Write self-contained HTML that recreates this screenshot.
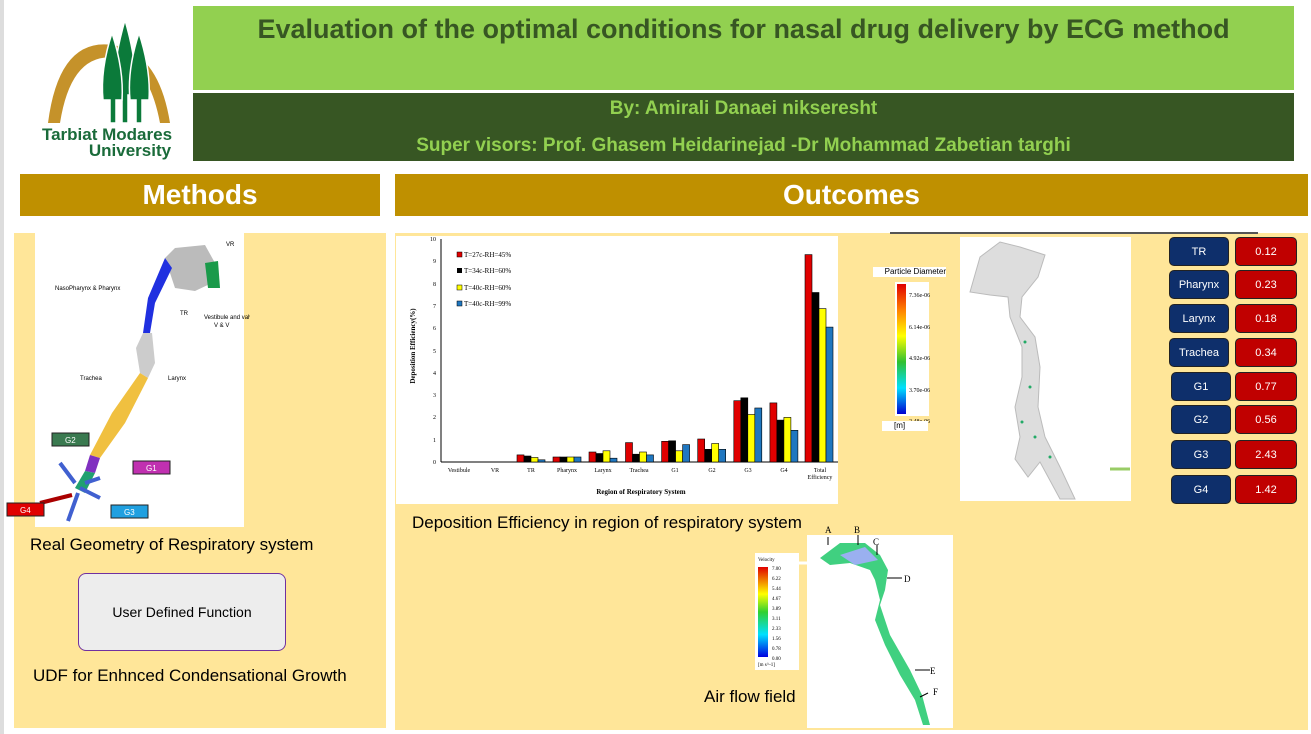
<!DOCTYPE html>
<html><head><meta charset="utf-8"><style>
*{margin:0;padding:0;box-sizing:border-box}
body{width:1311px;height:734px;background:#fff;position:relative;overflow:hidden;font-family:"Liberation Sans","DejaVu Sans",sans-serif}
.a{position:absolute}
.bar{background:#bf9000;color:#fff;font-weight:bold;font-size:28px;text-align:center;line-height:42px}
.cell{position:absolute;width:60px;height:29px;border-radius:5px;color:#fff;font-size:11px;text-align:center;line-height:29px;border:1px solid #222}
.l{left:1169px;background:#0e2f6b}
.r{left:1235px;background:#c00000;width:62px}
</style></head><body>
<div class="a" style="left:0;top:0;width:4px;height:734px;background:#ddd"></div>
<!-- logo -->
<svg class="a" style="left:30px;top:15px" width="160" height="145" viewBox="0 0 160 145">
<path d="M18 108 Q30 15 92 32 Q130 45 140 108 L130 108 Q120 55 92 44 Q42 32 30 108Z" fill="#c5922a"/>
<g fill="#0b7a3a" stroke="#fff" stroke-width="1.5">
<path d="M95 5 Q82 50 85 80 L92 80 L92 108 L98 108 L98 80 L105 80 Q108 50 95 5Z"/>
<path d="M82 18 Q70 55 73 85 L80 85 L80 108 L86 108 L86 85 L92 85 Q94 55 82 18Z"/>
<path d="M109 18 Q97 55 100 85 L106 85 L106 108 L112 108 L112 85 L119 85 Q121 55 109 18Z"/>
</g>
<text x="77" y="125" text-anchor="middle" font-size="17" font-weight="bold" fill="#1a6b3a">Tarbiat Modares</text>
<text x="100" y="141" text-anchor="middle" font-size="17" font-weight="bold" fill="#1a6b3a">University</text>
</svg>
<!-- header -->
<div class="a" style="left:193px;top:6px;width:1101px;height:84px;background:#92d050;color:#375623;font-weight:bold;font-size:27px;text-align:center;padding-top:8px">Evaluation of the optimal conditions for nasal drug delivery by ECG method</div>
<div class="a" style="left:193px;top:93px;width:1101px;height:68px;background:#375623;color:#92d050;font-weight:bold;font-size:19px;text-align:center">
<div style="position:absolute;top:5px;width:100%">By: Amirali Danaei nikseresht</div>
<div style="position:absolute;top:42px;width:100%">Super visors: Prof. Ghasem Heidarinejad -Dr Mohammad Zabetian targhi</div></div>
<div class="a bar" style="left:20px;top:174px;width:360px;height:42px">Methods</div>
<div class="a bar" style="left:395px;top:174px;width:913px;height:42px">Outcomes</div>
<!-- panels -->
<div class="a" style="left:14px;top:233px;width:372px;height:495px;background:#ffe699"></div>
<div class="a" style="left:395px;top:233px;width:913px;height:497px;background:#ffe699"></div>
<!-- left geometry -->
<svg class="a" style="left:0;top:233px" width="250" height="295">
<rect x="35" y="0" width="209" height="294" fill="#fff"/>
<path d="M165 25 L175 15 L205 12 L215 30 L212 50 L195 58 L175 55 L170 40Z" fill="#bbb"/>
<path d="M205 30 L218 28 L220 55 L208 55Z" fill="#1a9a4a"/>
<path d="M165 25 L172 35 L155 70 L150 100 L143 100 L148 65Z" fill="#2030e0"/>
<path d="M143 100 L152 100 L155 130 L148 145 L140 140 L136 115Z" fill="#ccc"/>
<path d="M140 140 L148 145 L125 190 L100 225 L90 222 L112 180Z" fill="#f0c040"/>
<path d="M90 222 L100 225 L95 240 L85 238Z" fill="#8030c0"/>
<path d="M85 238 L95 240 L85 260 L75 255Z" fill="#20a070"/>
<path d="M75 250 L60 230 M80 255 L100 265 M78 260 L68 288 M85 250 L100 245" stroke="#4060d0" stroke-width="4"/>
<path d="M72 262 L40 270" stroke="#a00" stroke-width="4"/>
<g font-size="6" fill="#000"><text x="55" y="57">NasoPharynx &amp; Pharynx</text><text x="180" y="82">TR</text><text x="204" y="86">Vestibule and valve</text><text x="214" y="94">V &amp; V</text><text x="226" y="13">VR</text><text x="80" y="147">Trachea</text><text x="168" y="147">Larynx</text></g>
<rect x="52" y="200" width="37" height="13" fill="#3a7a50" stroke="#222"/><text x="65" y="210" font-size="8" fill="#fff">G2</text>
<rect x="133" y="228" width="37" height="13" fill="#c030b0" stroke="#222"/><text x="146" y="238" font-size="8" fill="#fff">G1</text>
<rect x="111" y="272" width="37" height="13" fill="#20a0e0" stroke="#222"/><text x="124" y="282" font-size="8" fill="#fff">G3</text>
<rect x="7" y="270" width="37" height="13" fill="#e00000" stroke="#222"/><text x="20" y="280" font-size="8" fill="#fff">G4</text>
</svg>
<div class="a" style="left:30px;top:535px;font-size:17px;color:#000">Real Geometry of Respiratory system</div>
<div class="a" style="left:78px;top:573px;width:208px;height:78px;background:#ededed;border:1px solid #7030a0;border-radius:8px;font-size:14px;text-align:center;line-height:76px">User Defined Function</div>
<div class="a" style="left:33px;top:666px;font-size:17px;color:#000">UDF for Enhnced Condensational Growth</div>
<!-- chart -->
<svg class="a" style="left:396px;top:236px" width="442" height="268" font-family="Liberation Serif,serif">
<rect width="442" height="268" fill="#fff"/>
<line x1="45" y1="3" x2="45" y2="226" stroke="#000"/><line x1="45" y1="226" x2="442" y2="226" stroke="#000"/>
<g font-size="6" text-anchor="end">
<text x="40" y="228">0</text><text x="40" y="206">1</text><text x="40" y="183">2</text><text x="40" y="161">3</text><text x="40" y="139">4</text><text x="40" y="117">5</text><text x="40" y="94">6</text><text x="40" y="72">7</text><text x="40" y="50">8</text><text x="40" y="27">9</text><text x="40" y="5">10</text></g>
<g stroke="#000" stroke-width="0.6">
<rect x="121" y="218.9" width="7" height="7.1" fill="#e00000"/><rect x="128" y="220" width="7" height="6" fill="#000"/><rect x="135" y="221.5" width="7" height="4.5" fill="#ff0"/><rect x="142" y="223.8" width="7" height="2.2" fill="#1f77c0"/>
<rect x="157" y="221" width="7" height="5" fill="#e00000"/><rect x="164" y="221" width="7" height="5" fill="#000"/><rect x="171" y="221" width="7" height="5" fill="#ff0"/><rect x="178" y="221" width="7" height="5" fill="#1f77c0"/>
<rect x="193" y="216" width="7" height="10" fill="#e00000"/><rect x="200" y="217.5" width="7" height="8.5" fill="#000"/><rect x="207" y="214.8" width="7" height="11.2" fill="#ff0"/><rect x="214" y="222.2" width="7" height="3.8" fill="#1f77c0"/>
<rect x="229.5" y="206.6" width="7" height="19.4" fill="#e00000"/><rect x="236.5" y="218.2" width="7" height="7.8" fill="#000"/><rect x="243.5" y="216" width="7" height="10" fill="#ff0"/><rect x="250.5" y="218.9" width="7" height="7.1" fill="#1f77c0"/>
<rect x="265.6" y="205.3" width="7" height="20.7" fill="#e00000"/><rect x="272.6" y="204.8" width="7" height="21.2" fill="#000"/><rect x="279.6" y="214.8" width="7" height="11.2" fill="#ff0"/><rect x="286.6" y="208.6" width="7" height="17.4" fill="#1f77c0"/>
<rect x="301.7" y="203" width="7" height="23" fill="#e00000"/><rect x="308.7" y="213.3" width="7" height="12.7" fill="#000"/><rect x="315.7" y="207.5" width="7" height="18.5" fill="#ff0"/><rect x="322.7" y="213.3" width="7" height="12.7" fill="#1f77c0"/>
<rect x="337.8" y="164.7" width="7" height="61.3" fill="#e00000"/><rect x="344.8" y="161.8" width="7" height="64.2" fill="#000"/><rect x="351.8" y="178.5" width="7" height="47.5" fill="#ff0"/><rect x="358.8" y="172" width="7" height="54" fill="#1f77c0"/>
<rect x="373.9" y="166.9" width="7" height="59.1" fill="#e00000"/><rect x="380.9" y="184.1" width="7" height="41.9" fill="#000"/><rect x="387.9" y="181.4" width="7" height="44.6" fill="#ff0"/><rect x="394.9" y="194.3" width="7" height="31.7" fill="#1f77c0"/>
<rect x="409" y="18.6" width="7" height="207.4" fill="#e00000"/><rect x="416" y="56.5" width="7" height="169.5" fill="#000"/><rect x="423" y="72.6" width="7" height="153.4" fill="#ff0"/><rect x="430" y="91.1" width="7" height="134.9" fill="#1f77c0"/>
</g>
<g font-size="7"><rect x="61" y="16" width="5" height="5" fill="#e00000" stroke="#000" stroke-width=".5"/><text x="68" y="21">T=27c-RH=45%</text>
<rect x="61" y="32" width="5" height="5" fill="#000"/><text x="68" y="37">T=34c-RH=60%</text>
<rect x="61" y="49" width="5" height="5" fill="#ff0" stroke="#000" stroke-width=".5"/><text x="68" y="54">T=40c-RH=60%</text>
<rect x="61" y="65" width="5" height="5" fill="#1f77c0" stroke="#000" stroke-width=".5"/><text x="68" y="70">T=40c-RH=99%</text></g>
<g font-size="6" text-anchor="middle"><text x="63" y="236">Vestibule</text><text x="99" y="236">VR</text><text x="135" y="236">TR</text><text x="171" y="236">Pharynx</text><text x="207" y="236">Larynx</text><text x="243" y="236">Trachea</text><text x="279" y="236">G1</text><text x="316" y="236">G2</text><text x="352" y="236">G3</text><text x="388" y="236">G4</text><text x="424" y="236">Total</text><text x="424" y="243">Efficiency</text>
<text x="245" y="258" font-size="7" font-weight="bold">Region of Respiratory System</text>
<text transform="translate(19,110) rotate(-90)" font-size="7" font-weight="bold">Deposition Efficiency(%)</text></g>
</svg>
<div class="a" style="left:412px;top:513px;font-size:17px">Deposition Efficiency in region of respiratory system</div>
<!-- particle -->
<div class="a" style="left:890px;top:232px;width:368px;height:2px;background:#555"></div>
<div class="a" style="left:873px;top:267px;width:73px;height:10px;background:#fff;font-size:8px;text-align:right">Particle Diameter</div>
<div class="a" style="left:895px;top:282px;width:34px;height:134px;background:#fff"></div>
<div class="a" style="left:897px;top:284px;width:9px;height:130px;background:linear-gradient(#e00000,#ff8000,#ffff00,#30c030,#00e0ff,#0000d0)"></div>
<div class="a" style="left:909px;top:281px;font-size:6px;font-family:'Liberation Serif',serif;line-height:31.5px">7.36e-06<br>6.14e-06<br>4.92e-06<br>3.70e-06<br>2.48e-06</div>
<div class="a" style="left:882px;top:421px;width:46px;height:10px;background:#fff;font-size:8px;padding-left:12px">[m]</div>
<svg class="a" style="left:960px;top:237px" width="171" height="264">
<rect width="171" height="264" fill="#fff"/>
<path d="M10 55 L20 20 L40 5 L60 10 L85 18 L78 40 L62 60 L60 80 L75 100 L80 130 L78 170 L85 200 L100 230 L115 262 L100 262 L80 225 L68 240 L55 222 L60 200 L55 170 L62 140 L62 110 L50 80 L48 60 L30 58 Z" fill="#ddd" stroke="#bbb"/>
<g fill="#2a6"><circle cx="65" cy="105" r="1.5"/><circle cx="70" cy="150" r="1.5"/><circle cx="75" cy="200" r="1.5"/><circle cx="90" cy="220" r="1.5"/><circle cx="62" cy="185" r="1.5"/></g>
<path d="M150 232 L170 232" stroke="#9c6" stroke-width="3"/>
</svg>
<!-- table -->
<div class="cell l" style="top:237px">TR</div><div class="cell r" style="top:237px">0.12</div>
<div class="cell l" style="top:270px">Pharynx</div><div class="cell r" style="top:270px">0.23</div>
<div class="cell l" style="top:304px">Larynx</div><div class="cell r" style="top:304px">0.18</div>
<div class="cell l" style="top:338px">Trachea</div><div class="cell r" style="top:338px">0.34</div>
<div class="cell l" style="top:372px;left:1171px">G1</div><div class="cell r" style="top:372px">0.77</div>
<div class="cell l" style="top:405px;left:1171px">G2</div><div class="cell r" style="top:405px">0.56</div>
<div class="cell l" style="top:440px;left:1171px">G3</div><div class="cell r" style="top:440px">2.43</div>
<div class="cell l" style="top:475px;left:1171px">G4</div><div class="cell r" style="top:475px">1.42</div>
<!-- airflow -->
<svg class="a" style="left:740px;top:525px" width="220" height="205" font-family="Liberation Serif,serif">
<rect x="67" y="10" width="146" height="193" fill="#fff"/>
<rect x="15" y="28" width="44" height="117" fill="#fff"/>
<line x1="59" y1="38" x2="80" y2="38" stroke="#fff" stroke-width="3"/>
<rect x="18" y="42" width="10" height="90" fill="url(#g)"/>
<defs><linearGradient id="g" x1="0" y1="0" x2="0" y2="1"><stop offset="0" stop-color="#e00000"/><stop offset=".3" stop-color="#ffff00"/><stop offset=".5" stop-color="#30d030"/><stop offset=".75" stop-color="#00e0ff"/><stop offset="1" stop-color="#0000e0"/></linearGradient></defs>
<g font-size="5"><text x="18" y="36">Velocity</text><text x="32" y="45">7.00</text><text x="32" y="55">6.22</text><text x="32" y="65">5.44</text><text x="32" y="75">4.67</text><text x="32" y="85">3.89</text><text x="32" y="95">3.11</text><text x="32" y="105">2.33</text><text x="32" y="115">1.56</text><text x="32" y="125">0.78</text><text x="32" y="135">0.00</text><text x="18" y="141">[m s^-1]</text></g>
<path d="M80 33 L100 18 L125 18 L140 30 L148 45 L145 65 L140 80 L150 110 L170 145 L182 170 L190 200 L183 200 L175 175 L160 150 L145 120 L135 95 L140 75 L135 55 L130 45 L110 38 L90 40Z" fill="#40d080"/>
<path d="M100 30 L125 22 L138 35 L115 40Z" fill="#9ab0f0"/>
<g stroke="#000" stroke-width="1"><line x1="88" y1="12" x2="88" y2="20"/><line x1="118" y1="10" x2="118" y2="20"/><line x1="137" y1="20" x2="137" y2="30"/><line x1="147" y1="53" x2="162" y2="53"/><line x1="175" y1="145" x2="190" y2="145"/><line x1="180" y1="172" x2="188" y2="168"/></g>
<g font-size="9"><text x="85" y="8">A</text><text x="114" y="8">B</text><text x="133" y="20">C</text><text x="164" y="57">D</text><text x="190" y="149">E</text><text x="193" y="170">F</text></g>
</svg>
<div class="a" style="left:704px;top:687px;font-size:17px">Air flow field</div>
</body></html>
